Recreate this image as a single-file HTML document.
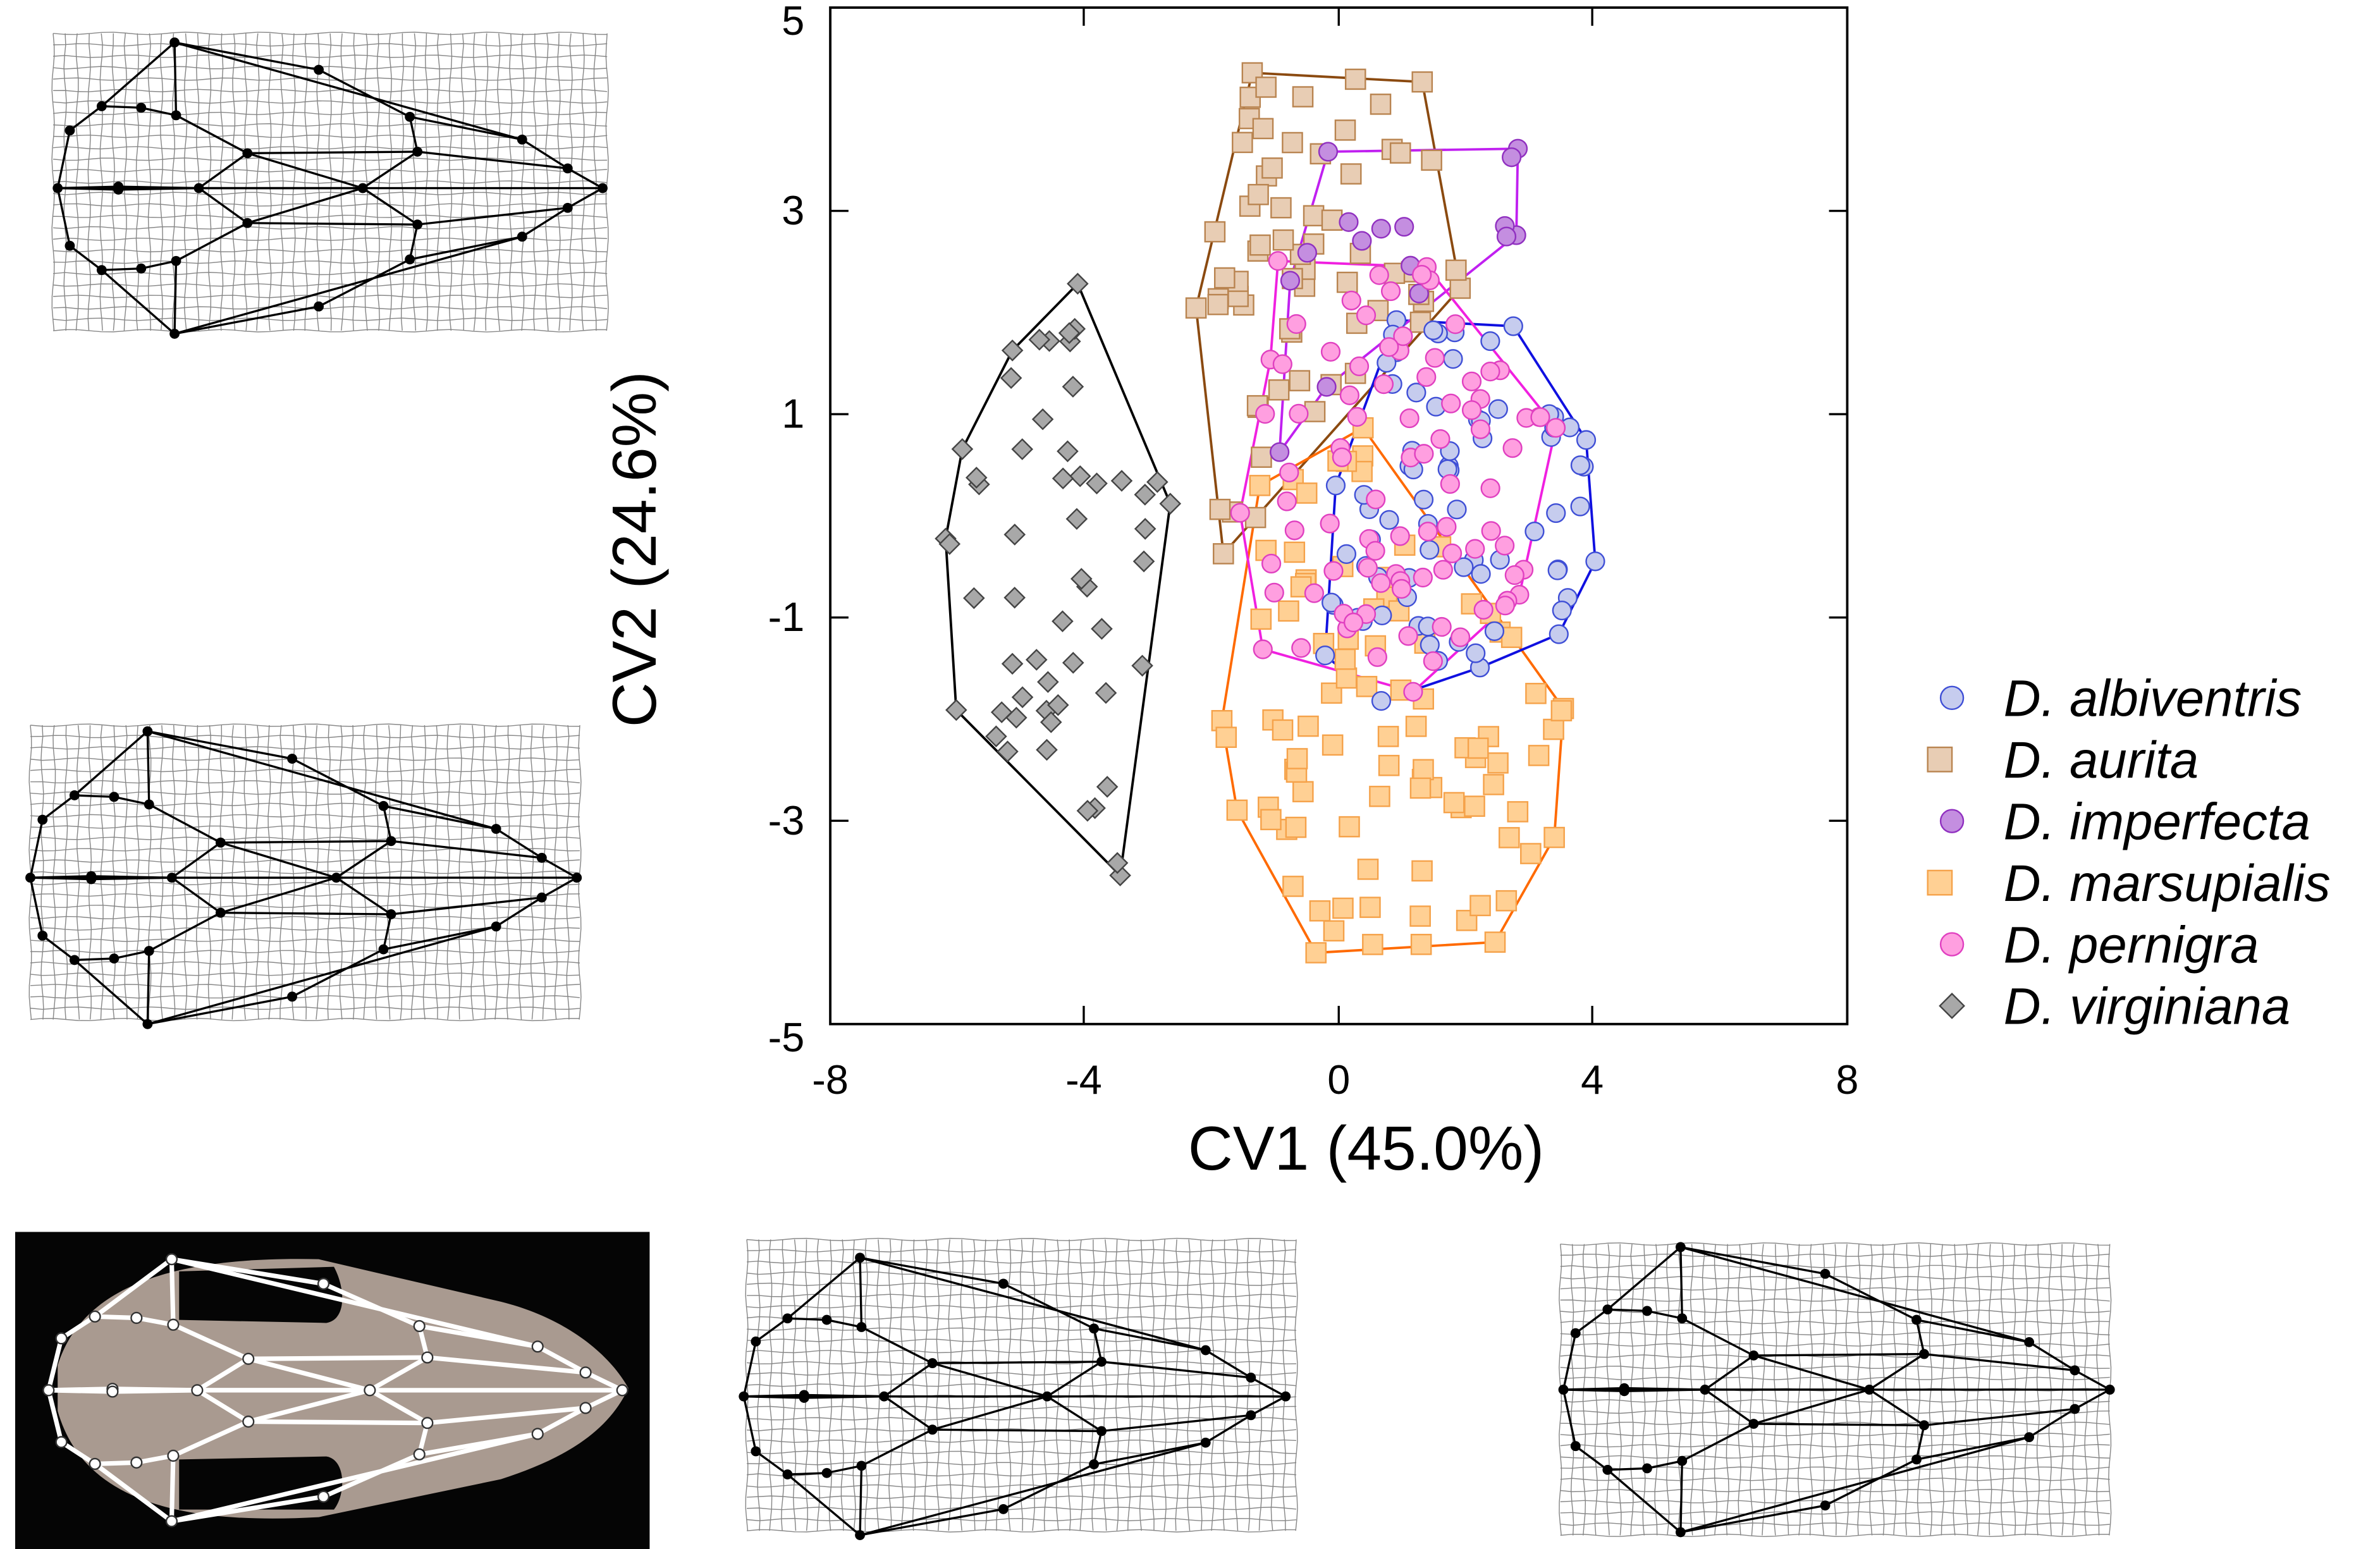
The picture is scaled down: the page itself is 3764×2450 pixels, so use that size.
<!DOCTYPE html>
<html><head><meta charset="utf-8"><style>
html,body{margin:0;padding:0;background:#fff;}
svg{display:block;}
text{font-family:"Liberation Sans",Arial,sans-serif;}
</style></head><body>
<svg id="s" width="3764" height="2450" viewBox="0 0 1568 1021" preserveAspectRatio="none" xmlns="http://www.w3.org/2000/svg">
<rect x="0" y="0" width="1568" height="1021" fill="#fff"/>
<g id="grids"></g>
<rect x="10" y="812" width="418" height="209" fill="#050505"/>
<path d="M38,900 C55,845 120,828 210,830 L330,858 C370,868 400,890 414,915 C400,945 370,962 330,975 L210,1000 C120,1005 55,990 38,930 Z" fill="#a99a90"/>
<path d="M118,838 L220,835 C228,850 228,870 215,872 L118,870 Z" fill="#050505"/>
<path d="M118,962 L215,960 C228,962 228,985 220,995 L118,995 Z" fill="#050505"/>
<g id="photo"></g>
<g id="plot"></g>
<rect x="547" y="5" width="670" height="670" fill="none" stroke="#000" stroke-width="1.6"/>
<g font-size="27" text-anchor="end">
<text x="530" y="23">5</text><text x="530" y="148">3</text><text x="530" y="282">1</text>
<text x="530" y="416">-1</text><text x="530" y="550">-3</text><text x="530" y="693">-5</text>
</g>
<g font-size="27" text-anchor="middle">
<text x="547" y="721">-8</text><text x="714" y="721">-4</text><text x="882" y="721">0</text>
<text x="1049" y="721">4</text><text x="1217" y="721">8</text>
</g>
<text x="900" y="771" font-size="41" text-anchor="middle">CV1 (45.0%)</text>
<text transform="translate(432,362) rotate(-90)" font-size="41" text-anchor="middle">CV2 (24.6%)</text>
<g id="legend" font-size="34" font-style="italic"></g>
</svg>
<script>
const NS="http://www.w3.org/2000/svg";
function el(p,t,a){const e=document.createElementNS(NS,t);for(const k in a)e.setAttribute(k,a[k]);p.appendChild(e);return e;}
const plot=document.getElementById('plot');
for(const y of [139,273,407,541]){el(plot,'line',{x1:547,y1:y,x2:559,y2:y,stroke:'#000','stroke-width':1.4});el(plot,'line',{x1:1205,y1:y,x2:1217,y2:y,stroke:'#000','stroke-width':1.4});}
for(const x of [714,882,1049]){el(plot,'line',{x1:x,y1:675,x2:x,y2:663,stroke:'#000','stroke-width':1.4});el(plot,'line',{x1:x,y1:5,x2:x,y2:17,stroke:'#000','stroke-width':1.4});}
let seed=12345;function rnd(){seed=(seed*16807)%2147483647;return seed/2147483647;}
function inPoly(x,y,p){let c=false;for(let i=0,j=p.length-1;i<p.length;j=i++){const[xi,yi]=p[i],[xj,yj]=p[j];if(((yi>y)!=(yj>y))&&(x<(xj-xi)*(y-yi)/(yj-yi)+xi))c=!c;}return c;}
const groups=[
{n:'D. virginiana',shape:'d',fill:'#a8a8a8',st:'#444',line:'#000',cnt:48,poly:[[710,187],[771,332],[738,577],[630,468],[623,355],[634,296],[667,231]]},
{n:'D. aurita',shape:'s',fill:'#e8cdb4',st:'#b98450',line:'#8b4a10',cnt:60,poly:[[825,48],[937,54],[962,190],[806,365],[788,203]]},
{n:'D. marsupialis',shape:'s',fill:'#ffd094',st:'#f5a24a',line:'#ff6a00',cnt:85,poly:[[898,282],[1030,467],[1024,552],[985,621],[867,628],[815,534],[805,475],[830,320]]},
{n:'D. albiventris',shape:'c',fill:'#c6ccee',st:'#3f4fd6',line:'#1010e0',cnt:65,poly:[[920,211],[997,215],[1045,290],[1051,370],[1027,418],[975,440],[910,462],[873,432],[880,320]]},
{n:'D. imperfecta',shape:'c',fill:'#c48ee0',st:'#9030c0',line:'#c020f0',cnt:10,poly:[[875,100],[1000,98],[999,155],[874,255],[843,298],[850,185]]},
{n:'D. pernigra',shape:'c',fill:'#ff9fe0',st:'#e040c0',line:'#f020e0',cnt:80,poly:[[842,172],[940,176],[1025,282],[1001,392],[931,456],[832,428],[817,338],[837,237]]},
];
function mark(p,g,x,y){
 if(g.shape=='s')el(p,'rect',{x:x-6.5,y:y-6.5,width:13,height:13,fill:g.fill,stroke:g.st,'stroke-width':1});
 else if(g.shape=='c')el(p,'circle',{cx:x,cy:y,r:6,fill:g.fill,stroke:g.st,'stroke-width':1});
 else el(p,'polygon',{points:`${x},${y-6.5} ${x+6.5},${y} ${x},${y+6.5} ${x-6.5},${y}`,fill:g.fill,stroke:g.st,'stroke-width':1});
}
for(const g of groups){
 el(plot,'polygon',{points:g.poly.map(p=>p.join(',')).join(' '),fill:'none',stroke:g.line,'stroke-width':1.6});
}
for(const g of groups){
 const xs=g.poly.map(p=>p[0]),ys=g.poly.map(p=>p[1]);
 const mnx=Math.min(...xs),mxx=Math.max(...xs),mny=Math.min(...ys),mxy=Math.max(...ys);
 for(const p of g.poly)mark(plot,g,p[0],p[1]);
 let k=0,t=0;while(k<g.cnt&&t<20000){t++;const x=mnx+rnd()*(mxx-mnx),y=mny+rnd()*(mxy-mny);
  const cx=(mnx+mxx)/2,cy=(mny+mxy)/2;
  if(inPoly(x,y,g.poly)&&rnd()<1-0.5*Math.hypot((x-cx)/(mxx-mnx),(y-cy)/(mxy-mny))){mark(plot,g,x,y);k++;}}
}
const leg=document.getElementById('legend');
const order=['D. albiventris','D. aurita','D. imperfecta','D. marsupialis','D. pernigra','D. virginiana'];
order.forEach((n,i)=>{const g=groups.find(q=>q.n==n);const y=460+i*40.6;
 if(g.shape=='s'){el(leg,'rect',{x:1278-8,y:y-8,width:16,height:16,fill:g.fill,stroke:g.st,'stroke-width':1});}
 else if(g.shape=='c'){el(leg,'circle',{cx:1286,cy:y,r:7.5,fill:g.fill,stroke:g.st,'stroke-width':1});}
 else el(leg,'polygon',{points:`1286,${y-8} 1294,${y} 1286,${y+8} 1278,${y}`,fill:g.fill,stroke:g.st});
 const t=el(leg,'text',{x:1320,y:y+12});t.textContent=n;});
const grids=document.getElementById('grids');
const U=[[115,28],[210,46],[270,77],[344,92],[374,111],[397,124],[67,70],[93,71],[116,76],[163,101],[275,100],[46,86],[38,124],[78,123],[131,124],[239,124]];
const names=['A','B','C','D','E','F','J','K','L','M','N','O','P','Q','R','S'];
const pts={};names.forEach((n,i)=>{pts[n]=U[i];pts[n+"'"]=[U[i][0],248-U[i][1]];});
const E0=[['O','J'],['J','A'],['A','B'],['B','C'],['C','D'],['D','E'],['E','F'],['A','L'],['J','K'],['K','L'],['L','M'],['M','N'],['N','E'],['M','S'],['S','N'],['P','O'],['P','Q'],['Q','R'],['R','M'],['C','N'],['A','D']];
const edges=[];E0.forEach(e=>{edges.push(e);edges.push([e[0]+"'",e[1]+"'"]);});
edges.push(['P','F']);edges.push(['R','S']);
function drawGrid(bx,by,bw,bh,mx,my,ww,wh,bg,photo){
 const par=photo?document.getElementById('photo'):grids;
 const tx=x=>mx+(x-38)*(ww/359), ty=y=>my+(y-28)*(wh/189);
 if(bg){const g=el(par,'g',{stroke:'#888','stroke-width':0.6,fill:'none'});
  const nx=46,ny=26;
  for(let i=0;i<=nx;i++){const x=bx+i*bw/nx;let d=`M${x},${by}`;for(let j=1;j<=ny;j++)d+=` L${x+Math.sin(i*1.7+j)*0.8},${by+j*bh/ny}`;el(g,'path',{d});}
  for(let j=0;j<=ny;j++){const y=by+j*bh/ny;let d=`M${bx},${y}`;for(let i=1;i<=nx;i++)d+=` L${bx+i*bw/nx},${y+Math.sin(i+j*2.3)*0.8}`;el(g,'path',{d});}
 }
 const col=photo?'#fff':'#000';
 for(const e of edges){const a=pts[e[0]],b=pts[e[1]];el(par,'line',{x1:tx(a[0]),y1:ty(a[1]),x2:tx(b[0]),y2:ty(b[1]),stroke:col,'stroke-width':photo?3:1.4});}
 for(const k in pts){const p=pts[k];if(k=="P'"||k=="F'"||k=="R'"||k=="S'")continue;
  el(par,'circle',{cx:tx(p[0]),cy:ty(p[1]),r:photo?3.5:3.3,fill:photo?'#fff':'#000',stroke:photo?'#333':'none','stroke-width':1});}
}
drawGrid(35,22,365,196,38,28,359,189,true,false);
drawGrid(20,478,362,194,20,482,360,190,true,false);
drawGrid(492,817,362,192,490,829,357,180,true,false);
drawGrid(1028,820,362,192,1030,822,360,185,true,false);
drawGrid(0,0,0,0,32,830,378,170,false,true);
</script>
</body></html>
